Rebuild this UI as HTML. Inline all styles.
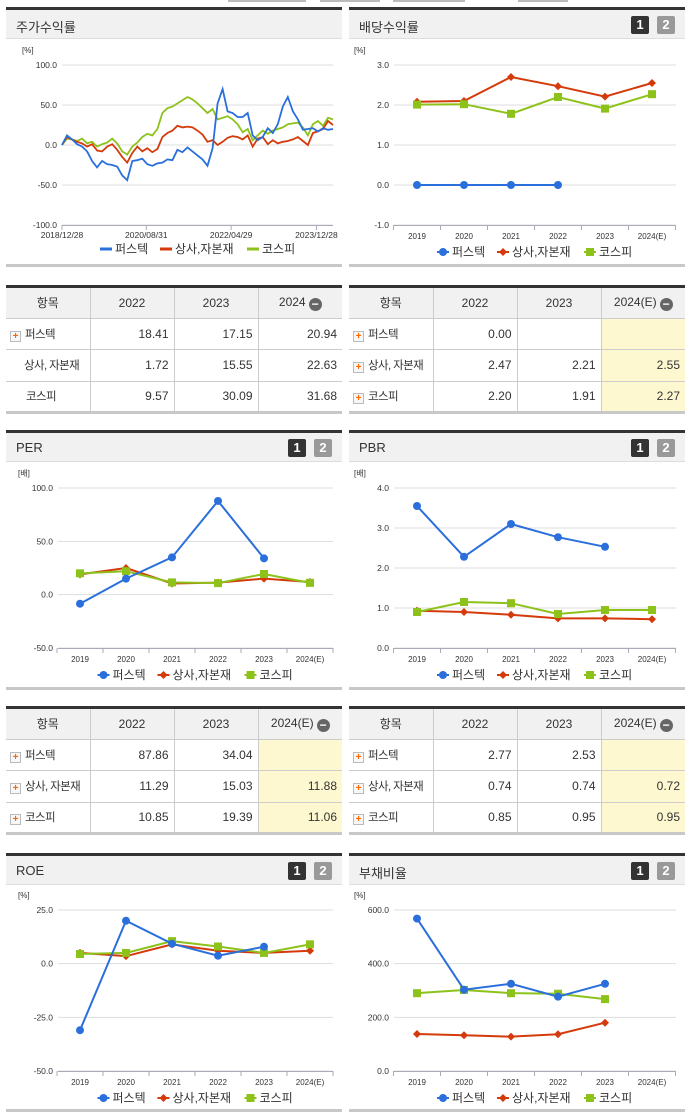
<!DOCTYPE html>
<html><head><meta charset="utf-8">
<style>
*{margin:0;padding:0;box-sizing:border-box}
body{width:691px;height:1115px;background:#fff;position:relative;overflow:hidden;font-family:"Liberation Sans","Noto Sans CJK KR",sans-serif;color:#333}
.abs{position:absolute}
.ph{position:absolute;border-top:3px solid #333;background:#f1f1f1;border-bottom:1px solid #ddd;height:32px;font-size:13px;padding:7px 0 0 10px;color:#333}
.pb{position:absolute;height:3px;background:#c8c8c8}
.btn{position:absolute;top:6px;width:18px;height:18px;border-radius:2px;color:#fff;font-weight:bold;font-size:13px;text-align:center;line-height:18px}
table{position:absolute;border-collapse:collapse;border-top:3px solid #333;border-bottom:3px solid #c8c8c8;font-size:12px;table-layout:fixed}
td,th{border:1px solid #ccc;height:31.5px;font-weight:normal;white-space:nowrap;overflow:hidden}
th{background:#f1f1f1;text-align:center}
td{text-align:right;padding-right:5px}
td.n{text-align:left;padding-left:4px;letter-spacing:-0.6px;font-size:11.5px}
td.y{background:#fdf8d0}
tr>*:first-child{border-left:none}tr>*:last-child{border-right:none}
.pl{display:inline-block;width:11px;height:11px;border:1px solid #bbb;background:#f7f7f7;color:#f60;font-size:10px;line-height:9px;text-align:center;margin-right:4px;vertical-align:-1px;font-weight:bold;letter-spacing:0}
.mi{display:inline-block;width:13px;height:13px;border-radius:50%;background:#666;color:#fff;line-height:12px;font-size:12px;font-weight:bold;vertical-align:-2px;margin-left:3px}
</style></head><body>
<div class="abs" style="left:228px;top:0;width:78px;height:2px;background:#bbb"></div>
<div class="abs" style="left:320px;top:0;width:60px;height:2px;background:#bbb"></div>
<div class="abs" style="left:393px;top:0;width:72px;height:2px;background:#bbb"></div>
<div class="abs" style="left:518px;top:0;width:50px;height:2px;background:#bbb"></div>

<div class="ph" style="left:6px;top:7px;width:336px">주가수익률</div>
<div class="ph" style="left:349px;top:7px;width:336px">배당수익률<span class="btn" style="left:282px;background:#333">1</span><span class="btn" style="left:308px;background:#999">2</span></div>
<div class="pb" style="left:6px;top:264px;width:336px"></div>
<div class="pb" style="left:349px;top:264px;width:336px"></div>

<div class="ph" style="left:6px;top:430px;width:336px">PER<span class="btn" style="left:282px;background:#333">1</span><span class="btn" style="left:308px;background:#999">2</span></div>
<div class="ph" style="left:349px;top:430px;width:336px">PBR<span class="btn" style="left:282px;background:#333">1</span><span class="btn" style="left:308px;background:#999">2</span></div>
<div class="pb" style="left:6px;top:687px;width:336px"></div>
<div class="pb" style="left:349px;top:687px;width:336px"></div>

<div class="ph" style="left:6px;top:853px;width:336px">ROE<span class="btn" style="left:282px;background:#333">1</span><span class="btn" style="left:308px;background:#999">2</span></div>
<div class="ph" style="left:349px;top:853px;width:336px">부채비율<span class="btn" style="left:282px;background:#333">1</span><span class="btn" style="left:308px;background:#999">2</span></div>
<div class="pb" style="left:6px;top:1109px;width:336px"></div>
<div class="pb" style="left:349px;top:1109px;width:336px"></div>

<table style="left:6px;top:285px;width:336px">
<colgroup><col style="width:84px"><col style="width:84px"><col style="width:84px"><col style="width:84px"></colgroup>
<tr><th>항목</th><th>2022</th><th>2023</th><th>2024<span class="mi">−</span></th></tr>
<tr><td class="n"><span class="pl">+</span>퍼스텍</td><td>18.41</td><td>17.15</td><td>20.94</td></tr>
<tr><td class="n" style="padding-left:18px">상사, 자본재</td><td>1.72</td><td>15.55</td><td>22.63</td></tr>
<tr><td class="n" style="padding-left:20px">코스피</td><td>9.57</td><td>30.09</td><td>31.68</td></tr>
</table>
<table style="left:349px;top:285px;width:336px">
<colgroup><col style="width:84px"><col style="width:84px"><col style="width:84px"><col style="width:84px"></colgroup>
<tr><th>항목</th><th>2022</th><th>2023</th><th>2024(E)<span class="mi">−</span></th></tr>
<tr><td class="n"><span class="pl">+</span>퍼스텍</td><td>0.00</td><td></td><td class="y"></td></tr>
<tr><td class="n"><span class="pl">+</span>상사, 자본재</td><td>2.47</td><td>2.21</td><td class="y">2.55</td></tr>
<tr><td class="n"><span class="pl">+</span>코스피</td><td>2.20</td><td>1.91</td><td class="y">2.27</td></tr>
</table>
<table style="left:6px;top:706px;width:336px">
<colgroup><col style="width:84px"><col style="width:84px"><col style="width:84px"><col style="width:84px"></colgroup>
<tr><th>항목</th><th>2022</th><th>2023</th><th>2024(E)<span class="mi">−</span></th></tr>
<tr><td class="n"><span class="pl">+</span>퍼스텍</td><td>87.86</td><td>34.04</td><td class="y"></td></tr>
<tr><td class="n"><span class="pl">+</span>상사, 자본재</td><td>11.29</td><td>15.03</td><td class="y">11.88</td></tr>
<tr><td class="n"><span class="pl">+</span>코스피</td><td>10.85</td><td>19.39</td><td class="y">11.06</td></tr>
</table>
<table style="left:349px;top:706px;width:336px">
<colgroup><col style="width:84px"><col style="width:84px"><col style="width:84px"><col style="width:84px"></colgroup>
<tr><th>항목</th><th>2022</th><th>2023</th><th>2024(E)<span class="mi">−</span></th></tr>
<tr><td class="n"><span class="pl">+</span>퍼스텍</td><td>2.77</td><td>2.53</td><td class="y"></td></tr>
<tr><td class="n"><span class="pl">+</span>상사, 자본재</td><td>0.74</td><td>0.74</td><td class="y">0.72</td></tr>
<tr><td class="n"><span class="pl">+</span>코스피</td><td>0.85</td><td>0.95</td><td class="y">0.95</td></tr>
</table>

<svg id="sv" class="abs" style="left:0;top:0" width="691" height="1115"></svg>

<script>
// stock return (weekly-ish samples)
const stockTicks=["2018/12/28","2020/08/31","2022/04/29","2023/12/28"];
const stockTickIdx=[0,16.8,33.7,50.7];
const pstStock=[0,12,7,1,-2,-8,-20,-28,-20,-24,-25,-27,-38,-44,-20,-19,-17,-24,-26,-23,-22,-18,-19,-6,-9,-3,-8,-13,-18,-26,-4,52,70,42,40,35,35,40,12,6,10,21,15,26,48,60,42,32,19,20,21,17,21,19,20];
const secStock=[0,10,7,4,2,-2,1,-7,-8,-2,1,-6,-15,-22,-10,-2,-8,-4,-9,-5,10,15,18,24,22,23,22,18,13,4,6,0,4,9,11,10,7,12,-2,8,10,1,6,2,4,5,7,10,5,0,15,17,20,30,25];
const kospiStock=[0,8,7,5,8,2,4,-2,1,3,8,2,-8,-12,-2,3,10,14,12,20,40,46,48,52,56,60,57,52,46,40,45,32,34,36,32,26,16,20,6,12,18,14,18,20,22,26,27,28,22,12,26,30,24,34,32];
// category charts
const years=["2019","2020","2021","2022","2023","2024(E)"];
const divPst=[0,0,0,0,null,null];
const divSec=[2.08,2.10,2.70,2.47,2.21,2.55];
const divKospi=[2.01,2.02,1.78,2.20,1.91,2.27];
const perPst=[-8.5,15,35,87.86,34.04,null];
const perSec=[19,25,10.5,11.29,15.03,11.88];
const perKospi=[20,22,11.5,10.85,19.39,11.06];
const pbrPst=[3.55,2.28,3.1,2.77,2.53,null];
const pbrSec=[0.93,0.9,0.83,0.74,0.74,0.72];
const pbrKospi=[0.9,1.15,1.12,0.85,0.95,0.95];
const roePst=[-31,20,9.3,3.7,7.9,null];
const roeSec=[5,3.5,9,6,5,6];
const roeKospi=[4.5,5,10.5,8,5,9];
const debtPst=[568,303,325,277,325,null];
const debtSec=[138,133,128,137,180,null];
const debtKospi=[290,302,290,288,268,null];

const NS="http://www.w3.org/2000/svg";
const sv=document.getElementById('sv');
const BLUE="#2a6fdb",RED="#d43a0a",GREEN="#8cc21a";
function mk(t,a,p){const e=document.createElementNS(NS,t);for(const k in a)e.setAttribute(k,a[k]);(p||sv).appendChild(e);return e;}
function txt(x,y,s,anchor,size,fill){const e=mk('text',{x:x,y:y,'text-anchor':anchor||'middle','font-size':size||9,fill:fill||'#333','font-family':'Liberation Sans, Noto Sans CJK KR, sans-serif'});e.textContent=s;return e;}

function axes(g,L,R,yTop,yBot,ticks,fmt,unit){
  const yv=v=>yTop+(ticks[0]-v)/(ticks[0]-ticks[ticks.length-1])*(yBot-yTop);
  ticks.forEach(t=>{
    const ln=mk('line',{x1:L,x2:R,y1:yv(t),y2:yv(t),stroke:'#ddd','stroke-width':1},g);
    
    
    const tl=txt(L-5,yv(t)+3,t.toFixed(fmt),'end',8.5,'#333');g.appendChild(tl);
    
    
  });
  const u=txt(L-40,yTop-12,unit,'start',8,'#333');g.appendChild(u);
  
  
  const ax=mk('line',{x1:L,x2:R,y1:yBot+0.5,y2:yBot+0.5,stroke:'#aab',"stroke-width":1},g);
  
  
  return yv;
}
function legend(g,cx,y,kind){
  const items=[["퍼스텍",BLUE,"c",-82],["상사,자본재",RED,"d",-22],["코스피",GREEN,"s",65]];
  items.forEach(it=>{
    const x=cx+it[3];
    const gg=mk('g',{},g);
    
    
    if(kind==='line'){mk('line',{x1:x-6,x2:x+6,y1:y,y2:y,stroke:it[1],'stroke-width':3},gg);}
    else{mk('line',{x1:x-6,x2:x+6,y1:y,y2:y,stroke:it[1],'stroke-width':2},gg);marker(gg,x,y,it[2],it[1]);}
    gg.appendChild(txt(x+9,y+4,it[0],'start',12,'#333'));
  });
}
function marker(g,x,y,k,c){
  if(k==='c')return mk('circle',{cx:x,cy:y,r:4,fill:c},g);
  if(k==='d')return mk('path',{d:`M${x} ${y-4}L${x+4} ${y}L${x} ${y+4}L${x-4} ${y}Z`,fill:c},g);
  return mk('rect',{x:x-4,y:y-4,width:8,height:8,fill:c},g);
}
function catChart(name,L,R,c0,step,yTop,yBot,ticks,fmt,unit,series){
  const g=mk('g',{});
  
  
  const yv=axes(g,L,R,yTop,yBot,ticks,fmt,unit);
  const xv=i=>c0+i*step;
  for(let i=0;i<=years.length;i++){
    const tk=mk('line',{x1:xv(i)-step/2,x2:xv(i)-step/2,y1:yBot,y2:yBot+5,stroke:'#aab'},g);
    
    
  }
  years.forEach((yr,i)=>{const t=txt(xv(i),yBot+14,yr,'middle',8,'#333');g.appendChild(t);
    
    });
  series.forEach(s=>{
    const [vals,col,k,sname]=s;let d='';
    vals.forEach((v,i)=>{if(v===null)return;d+=(d?'L':'M')+xv(i)+' '+yv(v);});
    const p=mk('path',{d:d,fill:'none',stroke:col,'stroke-width':2},g);
    
    
    vals.forEach((v,i)=>{if(v===null)return;const m=marker(g,xv(i),yv(v),k,col);
      
      });
  });
  legend(g,(L+R)/2-10,yBot+27,'pt');
}
// stock chart
(function(){
  const g=mk('g',{});
  
  
  const L=62,R=333;
  const yv=axes(g,L,R,65,225,[100,50,0,-50,-100],1,'[%]');
  const n=pstStock.length;const xv=i=>L+i*(R-L)/(n-1);
  stockTicks.forEach((s,j)=>{const x=xv(stockTickIdx[j]);
    const tk=mk('line',{x1:x,x2:x,y1:225,y2:230,stroke:'#aab'},g);
    
    
    const t=txt(x,238,s,'middle',8.5,'#333');g.appendChild(t);
    
    });
  [[kospiStock,GREEN,'kospi'],[secStock,RED,'sector'],[pstStock,BLUE,'perstech']].forEach(s=>{
    const d=s[0].map((v,i)=>(i?'L':'M')+xv(i).toFixed(1)+' '+yv(v).toFixed(1)).join('');
    const p=mk('path',{d:d,fill:'none',stroke:s[1],'stroke-width':1.8},g);
    
    
  });
  legend(g,188,249,'line');
})();
catChart('dividend-chart',394,676,417,47,65,225,[3,2,1,0,-1],1,'[%]',[[divSec,RED,'d','sector'],[divKospi,GREEN,'s','kospi'],[divPst,BLUE,'c','perstech']]);
catChart('per-chart',58,333,80,46,488,648,[100,50,0,-50],1,'[배]',[[perSec,RED,'d','sector'],[perKospi,GREEN,'s','kospi'],[perPst,BLUE,'c','perstech']]);
catChart('pbr-chart',394,676,417,47,488,648,[4,3,2,1,0],1,'[배]',[[pbrSec,RED,'d','sector'],[pbrKospi,GREEN,'s','kospi'],[pbrPst,BLUE,'c','perstech']]);
catChart('roe-chart',58,333,80,46,910,1071,[25,0,-25,-50],1,'[%]',[[roeSec,RED,'d','sector'],[roeKospi,GREEN,'s','kospi'],[roePst,BLUE,'c','perstech']]);
catChart('debt-ratio-chart',394,676,417,47,910,1071,[600,400,200,0],1,'[%]',[[debtSec,RED,'d','sector'],[debtKospi,GREEN,'s','kospi'],[debtPst,BLUE,'c','perstech']]);
</script>
</body></html>
